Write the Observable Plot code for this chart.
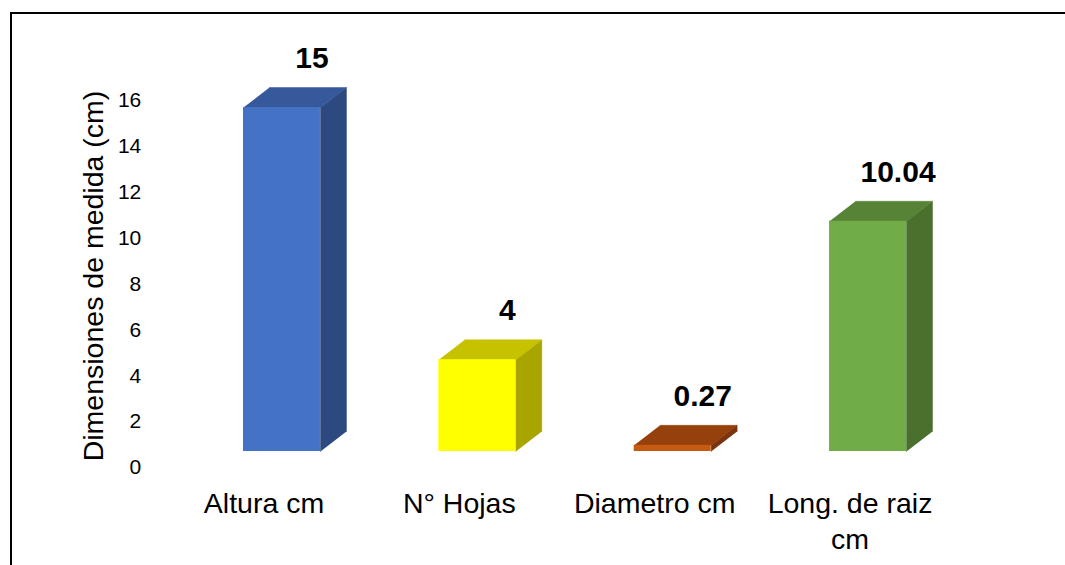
<!DOCTYPE html>
<html>
<head>
<meta charset="utf-8">
<script src="https://cdn.jsdelivr.net/npm/d3@7"></script>
<script src="https://cdn.jsdelivr.net/npm/@observablehq/plot@0.6"></script>
<style>
  html, body { margin: 0; padding: 0; background: #fff; }
  #wrap { position: relative; width: 1065px; height: 565px; overflow: hidden; background: #fff; }
  #border { position: absolute; left: 10px; top: 12px; right: -5px; bottom: -5px; z-index: 2;
            border-top: 2px solid #000; border-left: 2px solid #000; pointer-events: none; }
  #chart { position: absolute; left: 0; top: 0; z-index: 1; }
  #chart svg { font-family: "Liberation Sans", Arial, sans-serif; }
</style>
</head>
<body>
<div id="wrap"><div id="border"></div><div id="chart"></div></div>
<script>
// Plant measurements
const categories = ["Altura cm", "N° Hojas", "Diametro cm", "Long. de raiz\ncm"];
const values = [15, 4, 0.27, 10.04];
const valueLabels = ["15", "4", "0.27", "10.04"];
const yTicks = [0, 2, 4, 6, 8, 10, 12, 14, 16];

// Face colours per bar: front, top, side
const frontColors = ["#4472c4", "#ffff00", "#c55a11", "#70ad47"];
const topColors   = ["#36599c", "#c6c200", "#96400c", "#568336"];
const sideColors  = ["#2c4a7f", "#a8a500", "#7a3410", "#4a702d"];

// Bar geometry in scale units (half width, depth along x and y)
const HW = 0.197;
const DX = 0.133;
const DY = 0.872;

const rows = categories.map((c, i) => ({i, cat: c, value: values[i], label: valueLabels[i]}));

const marks = [];
for (const d of rows) {
  const L = d.i - HW, R = d.i + HW, v = d.value;
  const side = [[R, 0], [R, v], [R + DX, v + DY], [R + DX, DY]];
  const top = [[L, v], [R, v], [R + DX, v + DY], [L + DX, v + DY]];
  marks.push(
    Plot.line(side, {x: p => p[0], y: p => p[1], fill: sideColors[d.i], stroke: sideColors[d.i], strokeWidth: 0.5}),
    Plot.line(top, {x: p => p[0], y: p => p[1], fill: topColors[d.i], stroke: topColors[d.i], strokeWidth: 0.5}),
    Plot.rect([d], {x1: r => r.i - HW, x2: r => r.i + HW, y1: 0, y2: r => r.value, fill: frontColors[d.i]})
  );
}

const chart = Plot.plot({
  width: 1065,
  height: 565,
  marginLeft: 183.8,
  marginRight: 99.8,
  marginTop: 84.1,
  marginBottom: 114,
  style: {background: "transparent", color: "#000"},
  x: {domain: [-0.5, 3.5]},
  y: {domain: [0, 16]},
  marks: [
    ...marks,
    Plot.text(rows, {x: "i", y: "value", text: "label", dx: 30, dy: -49,
      fontSize: 30, fontWeight: "bold", fill: "#000"}),
    Plot.axisY({ticks: yTicks, tickSize: 0, tickPadding: 43, dy: 16, fontSize: 21, label: null}),
    Plot.axisX({ticks: [0, 1, 2, 3], tickFormat: i => categories[i], tickSize: 0, tickPadding: 36,
      dx: -18, fontSize: 28.5, lineHeight: 1.27, label: null}),
    Plot.text(["Dimensiones de medida (cm)"], {frameAnchor: "left", textAnchor: "middle", rotate: -90,
      dx: -90, dy: 8, fontSize: 28.5, fill: "#000"})
  ]
});
document.getElementById("chart").appendChild(chart);
</script>
</body>
</html>
